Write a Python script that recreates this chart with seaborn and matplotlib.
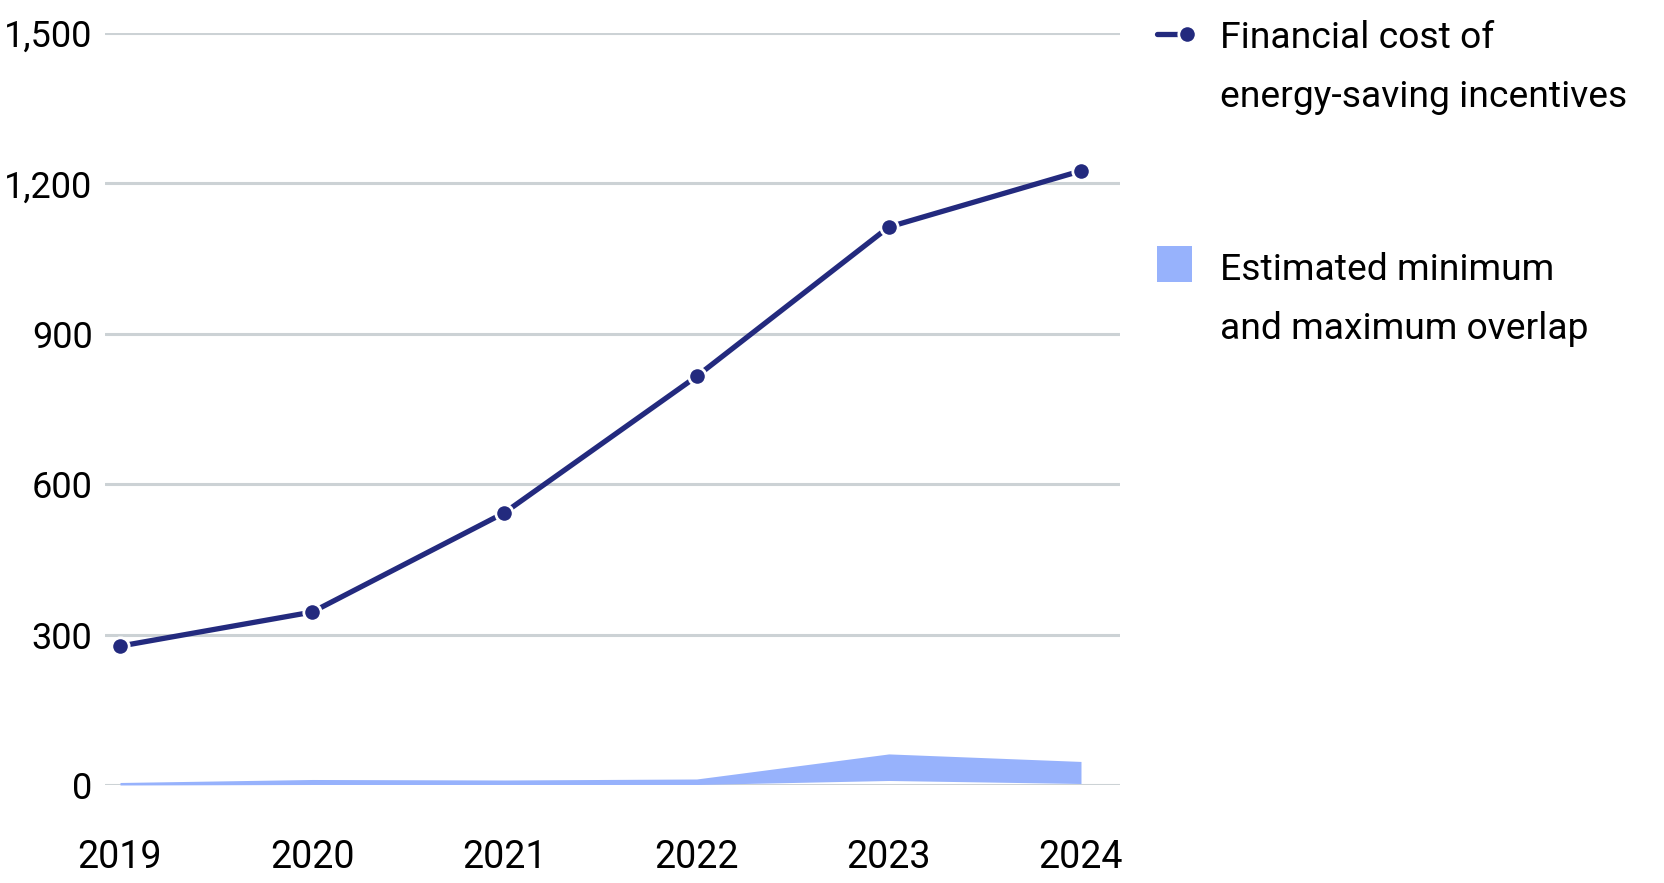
import matplotlib
matplotlib.use('Agg')

import seaborn as sns
import pandas as pd
from matplotlib import pyplot as plt
from matplotlib.lines import Line2D
from matplotlib.patches import Rectangle
from matplotlib.ticker import FuncFormatter

years = [2019, 2020, 2021, 2022, 2023, 2024]
financial_cost = [277, 345, 543, 815, 1113, 1225]
overlap_min = [0, 1, 1, 1, 9, 3]
overlap_max = [5, 11, 10, 12, 62, 47]
y_ticks = [0, 300, 600, 900, 1200, 1500]

line_label = ['Financial cost of', 'energy-saving incentives']
band_label = ['Estimated minimum', 'and maximum overlap']

NAVY = '#232a7e'
BAND = '#97b2fc'
GRID = '#ccd2d5'

W, H = 1664, 883

sns.set_theme(style='white')
plt.rcParams['font.family'] = ['Roboto', 'DejaVu Sans']


def px(x, y):
    return x / W, 1 - y / H


df = pd.DataFrame(dict(year=years, cost=financial_cost))

fig = plt.figure(figsize=(W / 100, H / 100), dpi=100)
left, top = px(105, 33)
right, bottom = px(1120, 785)
ax = fig.add_axes([left, bottom, right - left, top - bottom])

ax.fill_between(years, overlap_min, overlap_max, color=BAND, linewidth=0, zorder=2)
sns.lineplot(data=df, x='year', y='cost', ax=ax, color=NAVY, linewidth=3.8,
             marker='o', markersize=12.5, markeredgecolor='white', markeredgewidth=2,
             zorder=3, clip_on=False)

ax.set_xlim(2018.922, 2024.203)
ax.set_ylim(0, 1500)
ax.set_yticks(y_ticks)
ax.set_xticks(years)
ax.yaxis.set_major_formatter(FuncFormatter(lambda v, p: '{:,.0f}'.format(v)))
ax.grid(axis='y', color=GRID, linewidth=2.2, zorder=0)
ax.set_axisbelow(True)
for s in ax.spines.values():
    s.set_visible(False)
ax.tick_params(axis='both', length=0, labelcolor='black')
ax.tick_params(axis='y', pad=9, labelsize=26)
ax.tick_params(axis='x', pad=39, labelsize=27)
ax.set_xlabel('')
ax.set_ylabel('')
if ax.get_legend():
    ax.get_legend().remove()

# legend drawn by hand so handles line up with the first label line
x0, y0 = px(1157, 34)
x1, _ = px(1187, 34)
fig.add_artist(Line2D([x0, x1], [y0, y0], transform=fig.transFigure, color=NAVY,
                      linewidth=3.8, marker='o', markersize=12.5, markevery=[1],
                      markeredgecolor='white', markeredgewidth=2))
rx, ry = px(1157, 282)
fig.add_artist(Rectangle((rx, ry), 35 / W, 36 / H, transform=fig.transFigure,
                         color=BAND, linewidth=0))
for label, base in ((line_label, 48), (band_label, 280)):
    for i, line in enumerate(label):
        tx, ty = px(1220, base + 59 * i)
        fig.text(tx, ty, line, fontsize=26.8, va='baseline', ha='left', color='black')

fig.savefig('out.png', dpi=100)
